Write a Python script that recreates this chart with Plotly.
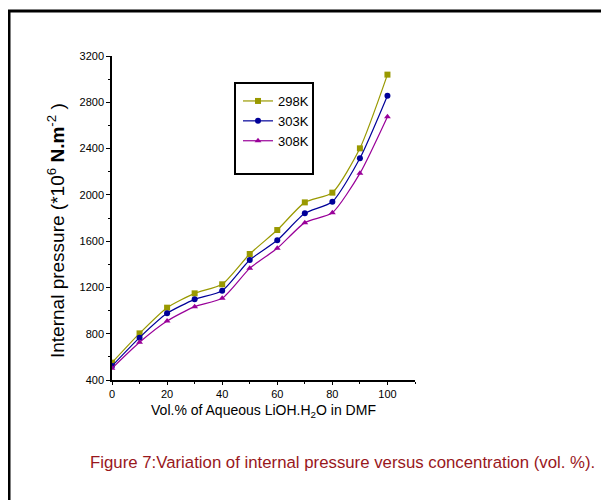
import plotly.graph_objects as go

vol = [0, 10, 20, 30, 40, 50, 60, 70, 80, 90, 100]
p298 = [550, 803, 1025, 1149, 1227, 1489, 1696, 1935, 2019, 2402, 3039]
p303 = [521, 766, 976, 1097, 1172, 1437, 1607, 1840, 1941, 2316, 2857]
p308 = [501, 726, 910, 1034, 1106, 1365, 1538, 1760, 1846, 2186, 2676]
series = [("298K", p298, "#999900", "square"),
          ("303K", p303, "#000099", "circle"),
          ("308K", p308, "#990099", "triangle-up")]
ytick_vals = [400, 800, 1200, 1600, 2000, 2400, 2800, 3200]
xtick_vals = [0, 20, 40, 60, 80, 100]

FONT = "Liberation Sans, Arial, sans-serif"

fig = go.Figure()
for name, vals, col, sym in series:
    fig.add_trace(go.Scatter(
        x=vol, y=vals, name=name, mode="lines+markers",
        line=dict(color=col, width=1.2, shape="spline", smoothing=0.6),
        marker=dict(color=col, symbol=sym, size=6),
    ))

# page body has an 8px default margin: work in screen pixels, convert below
OFF = 8
W, H = 609, 500
sL, sR, sT, sB = 112, 415, 56, 380  # plot area in screen pixels
L, T = sL - OFF, sT - OFF
R = W - (sR - OFF)
B = H - (sB - OFF)
pw, ph = sR - sL, sB - sT

def px(x):
    return (x - sL) / pw

def py(y):
    return (sB - y) / ph

fig.update_layout(
    width=W, height=H,
    margin=dict(l=L, r=R, t=T, b=B, pad=0),
    paper_bgcolor="white", plot_bgcolor="white",
    font=dict(family=FONT, color="black", size=11),
    showlegend=True,
    legend=dict(x=px(238), y=py(86), xanchor="left", yanchor="top",
                bgcolor="rgba(0,0,0,0)", borderwidth=0,
                font=dict(size=13, family=FONT), tracegroupgap=0,
                itemwidth=30),
    xaxis=dict(range=[0, 110], tickvals=xtick_vals, showgrid=False, zeroline=False,
               showline=True, linecolor="black", linewidth=1.5,
               ticks="outside", ticklen=3, tickcolor="black",
               minor=dict(dtick=10, ticks="outside", ticklen=2, tickcolor="black"),
               tickfont=dict(size=11),
               title=dict(text="Vol.% of Aqueous LiOH.H<sub>2</sub>O in DMF",
                          font=dict(size=14), standoff=6)),
    yaxis=dict(range=[400, 3200], tickvals=ytick_vals, showgrid=False, zeroline=False,
               showline=True, linecolor="black", linewidth=1.5,
               ticks="outside", ticklen=4, tickcolor="black",
               minor=dict(dtick=200, ticks="outside", ticklen=2, tickcolor="black"),
               tickfont=dict(size=11)),
    shapes=[
        dict(type="rect", xref="paper", yref="paper",
             x0=px(9), x1=px(700), y0=py(600), y1=py(11),
             line=dict(color="black", width=3), fillcolor="rgba(0,0,0,0)"),
        dict(type="rect", xref="paper", yref="paper",
             x0=px(235), x1=px(313), y0=py(174), y1=py(83),
             line=dict(color="black", width=2), fillcolor="rgba(0,0,0,0)"),
    ],
    annotations=[
        dict(text="Internal pressure (*10<sup>6</sup> <b>N.m</b><sup>-2</sup> )",
             xref="paper", yref="paper", x=px(56), y=py(231), textangle=-90,
             xanchor="center", yanchor="middle", showarrow=False,
             font=dict(size=19, color="black", family=FONT)),
        dict(text="Figure 7:Variation of internal pressure versus concentration (vol. %).",
             xref="paper", yref="paper", x=px(342), y=py(462),
             xanchor="center", yanchor="middle", showarrow=False,
             font=dict(size=16.8, color="#99171c", family=FONT)),
    ],
)

fig.write_html("out.html")
